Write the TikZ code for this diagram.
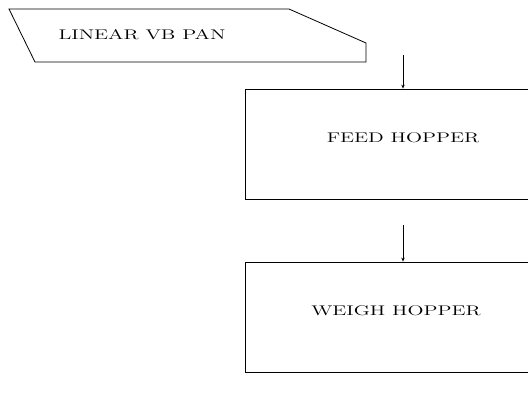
\documentclass[tikz,border=0pt]{standalone}
\usepackage{tikz}
\usetikzlibrary{arrows.meta}
\newcommand{\wide}[1]{\scalebox{1.5}[1]{#1}}
\tikzstyle{label}=[font=\fontsize{14}{16}\selectfont]
\tikzstyle{block}=[draw,line width=0.8pt,minimum width=316pt,minimum height=110pt,inner sep=0pt,text height=10pt,text depth=13pt,label]
\tikzstyle{flow}=[line width=0.8pt,-{Stealth[length=4pt,width=3.5pt]}]

\begin{document}
\begin{tikzpicture}[x=1pt,y=-1pt]
    \useasboundingbox (0,0) rectangle (528,405);
    \clip (0,0) rectangle (528,405);
    \draw[line width=0.8pt] (9,9) -- (289,9) -- (366,43) -- (366,62) -- (35,62) -- cycle;
    \node[label] (pan) at (142,35) {\wide{LINEAR VB PAN}};
    \node[block] (feed) at (403,144) {\wide{FEED HOPPER}};
    \node[block] (weigh) at (403,317) {\wide{WEIGH HOPPER}\kern14pt\relax};
    \coordinate (in1) at (403,55);
    \coordinate (in2) at (403,225);
    \draw[flow] (in1) -- (feed.north);
    \draw[flow] (in2) -- (weigh.north);
\end{tikzpicture}
\end{document}
